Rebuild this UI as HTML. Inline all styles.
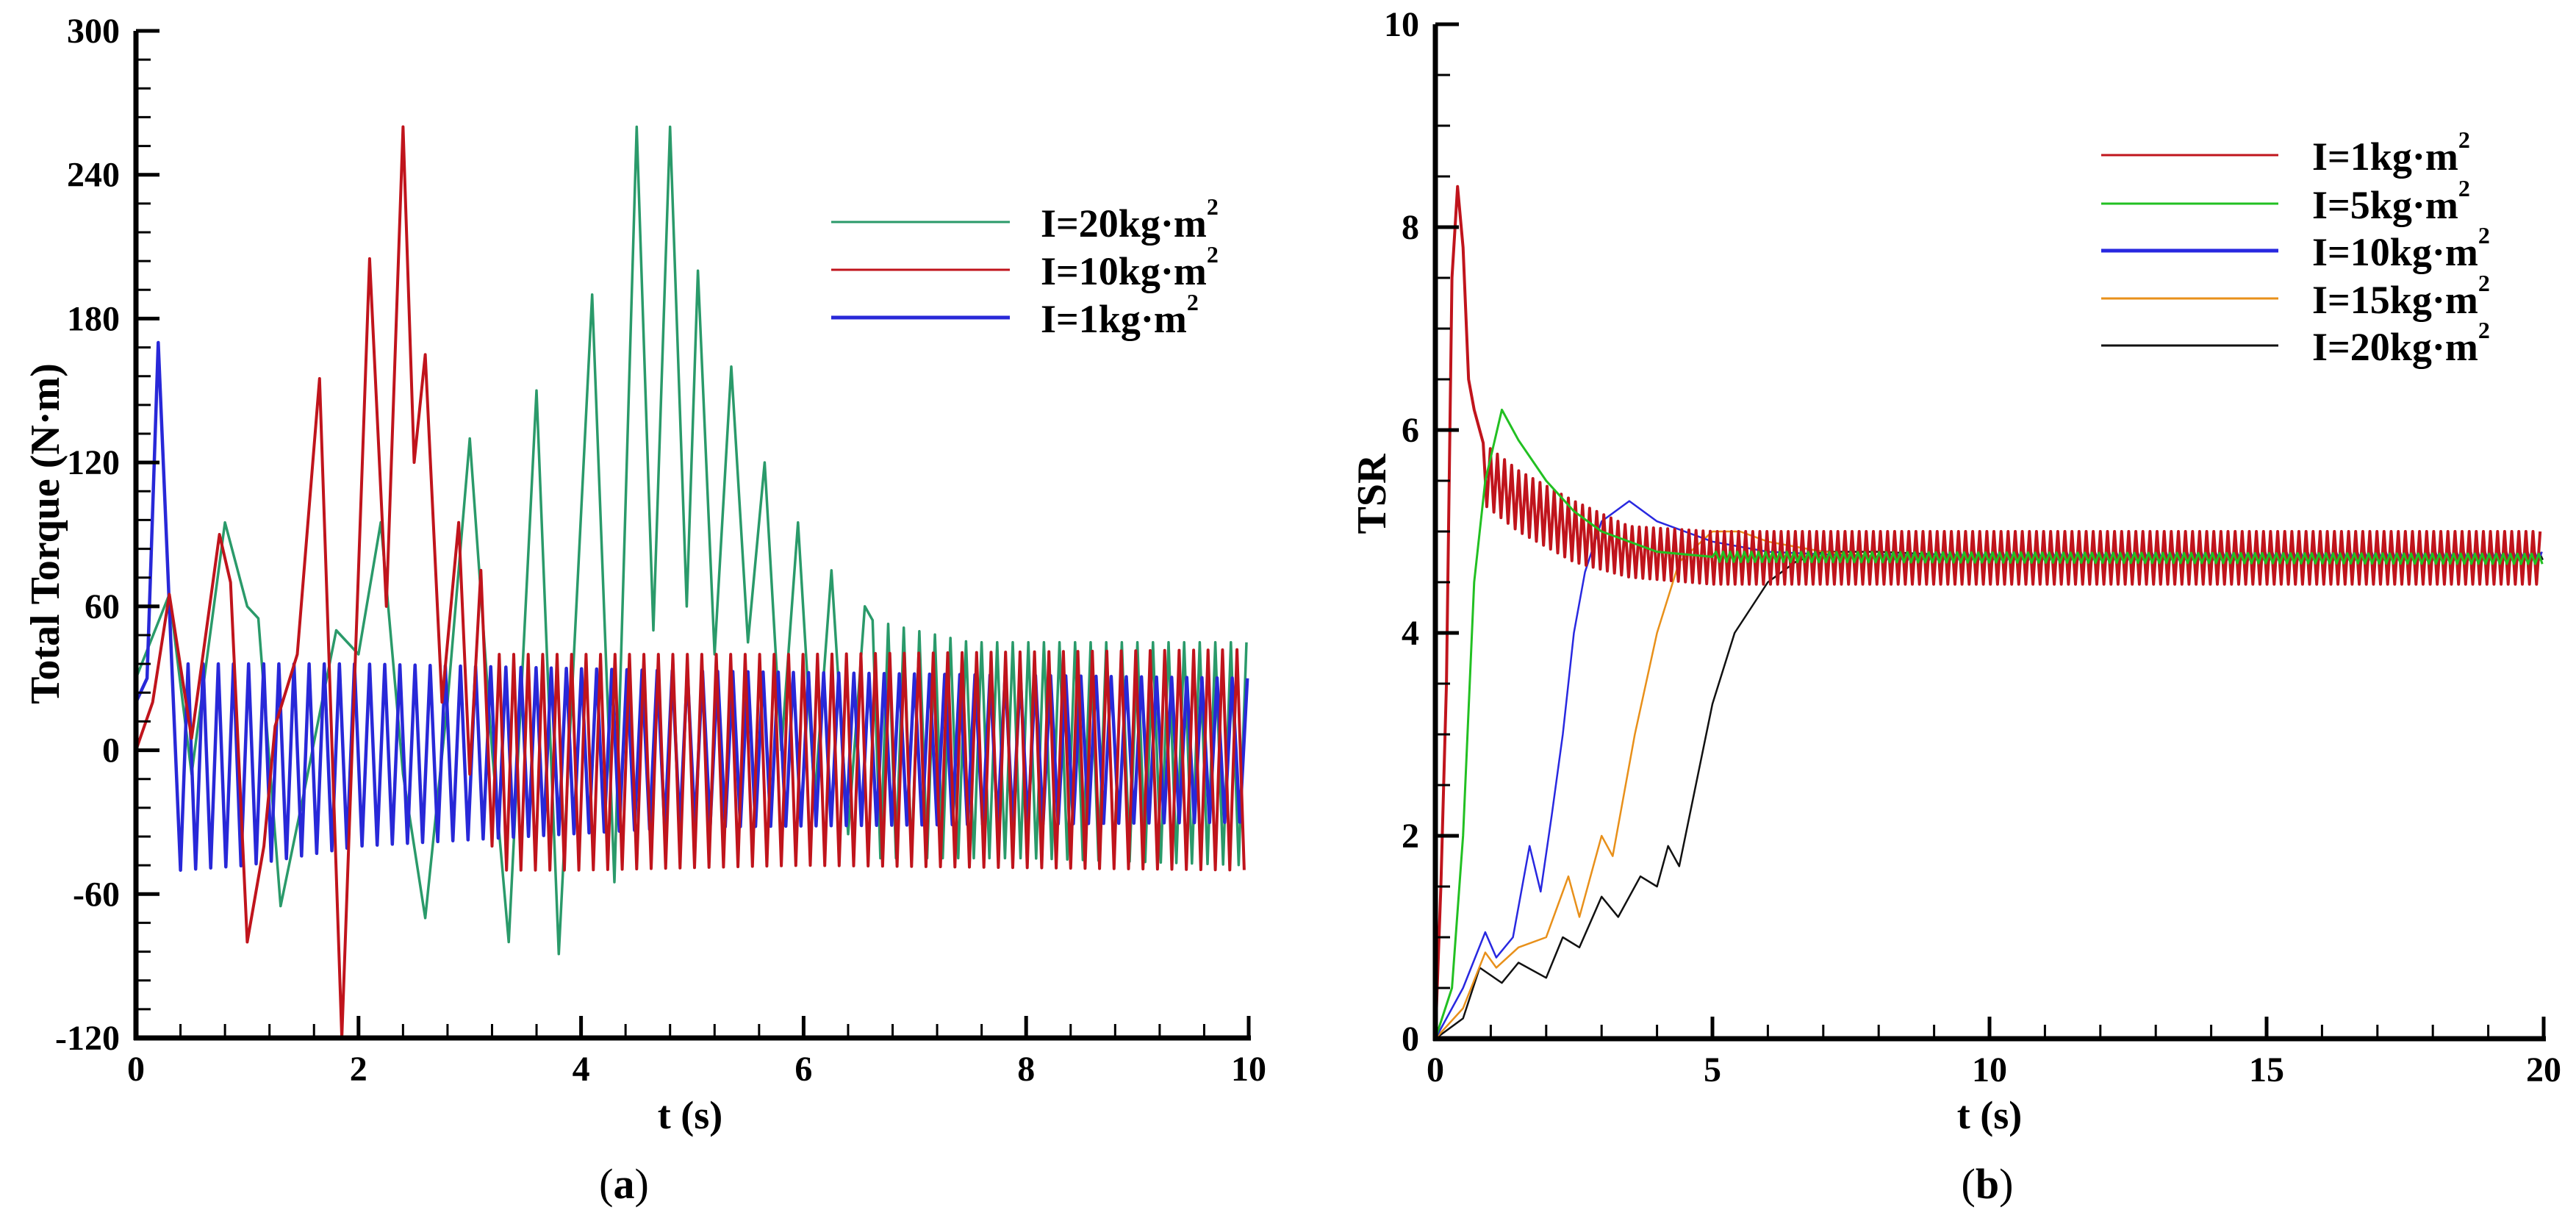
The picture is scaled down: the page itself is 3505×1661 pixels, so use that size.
<!DOCTYPE html>
<html><head><meta charset="utf-8"><style>
html,body{margin:0;padding:0;background:#fff;}
svg{display:block;}
text{font-family:"Liberation Serif",serif;fill:#000;}
</style></head><body>
<svg id="fig" width="3505" height="1661" viewBox="0 0 3505 1661" xmlns="http://www.w3.org/2000/svg">
<g id="plotA"></g>
<g id="plotB"></g>
</svg>
<script>
// ---------- Chart (a) data: transient points then oscillation envelope ----------
const aBlueTransT = [0,0.1,0.2,0.3,0.4];
const aBlueTransV = [20,30,170,60,-50];
const aBlueEnvT = [0.4,1,2,5,10];
const aBlueEnvHi = [36,36,36,33,30];
const aBlueEnvLo = [-50,-48,-40,-32,-30];
const aBluePeriod = 0.136;

const aRedTransT = [0,0.15,0.3,0.5,0.75,0.85,1.0,1.15,1.25,1.45,1.65,1.85,2.1,2.25,2.4,2.5,2.6,2.75,2.9,3.0,3.1,3.2];
const aRedTransV = [0,20,65,5,90,70,-80,-40,10,40,155,-120,205,60,260,120,165,20,95,-10,75,-40];
const aRedEnvT = [3.2,4,6,10];
const aRedEnvHi = [40,40,40,42];
const aRedEnvLo = [-50,-50,-48,-50];
const aRedPeriod = 0.13;

const aGreenTransT = [0,0.3,0.5,0.8,1.0,1.1,1.3,1.5,1.8,2.0,2.2,2.4,2.6,2.8,3.0,3.2,3.35,3.6,3.8,4.1,4.3,4.5,4.65,4.8,4.95,5.05,5.2,5.35,5.5,5.65,5.8,5.95,6.1,6.25,6.4,6.55];
const aGreenTransV = [30,65,-10,95,60,55,-65,-20,50,40,95,-10,-70,20,130,0,-80,150,-85,190,-55,260,50,260,60,200,40,160,45,120,0,95,-20,75,-35,60];
const aGreenEnvT = [6.55,7.0,7.5,8,10];
const aGreenEnvHi = [55,50,45,45,45];
const aGreenEnvLo = [-45,-45,-45,-45,-48];
const aGreenPeriod = 0.14;

const aYTicks = [-120,-60,0,60,120,180,240,300];
const aXTicks = [0,2,4,6,8,10];
const aLegend = ["I=20kg·m","I=10kg·m","I=1kg·m"];

// ---------- Chart (b) data ----------
const bRedTransT = [0,0.1,0.2,0.3,0.4,0.5,0.6,0.7,0.8];
const bRedTransV = [0,1.5,3.5,7.5,8.4,7.8,6.5,6.2,6.0];
const bRedEnvT = [0.8,1.5,2.5,3.5,5,20];
const bRedEnvHi = [5.9,5.6,5.3,5.05,5.0,5.0];
const bRedEnvLo = [5.3,5.0,4.7,4.55,4.48,4.48];
const bRedPeriod = 0.128;

const bGreenTransT = [0,0.3,0.5,0.7,0.9,1.2,1.5,2,2.5,3,4,5];
const bGreenTransV = [0,0.5,2,4.5,5.5,6.2,5.9,5.5,5.2,5.0,4.8,4.75];
const bGreenEnvT = [5,20]; const bGreenEnvHi = [4.8,4.78]; const bGreenEnvLo = [4.7,4.68];

const bBlueTransT = [0,0.5,0.9,1.1,1.4,1.7,1.9,2.1,2.3,2.5,2.7,3.0,3.5,4,5,6,8];
const bBlueTransV = [0,0.5,1.05,0.8,1.0,1.9,1.45,2.2,3.0,4.0,4.6,5.1,5.3,5.1,4.9,4.8,4.75];
const bBlueEnvT = [8,20]; const bBlueEnvHi = [4.8,4.8]; const bBlueEnvLo = [4.7,4.7];

const bOrangeTransT = [0,0.5,0.9,1.1,1.5,2.0,2.4,2.6,3.0,3.2,3.6,4.0,4.4,5,5.5,6,7,8];
const bOrangeTransV = [0,0.3,0.85,0.7,0.9,1.0,1.6,1.2,2.0,1.8,3.0,4.0,4.7,5.0,5.0,4.9,4.8,4.75];
const bOrangeEnvT = [8,20]; const bOrangeEnvHi = [4.8,4.8]; const bOrangeEnvLo = [4.7,4.7];

const bBlackTransT = [0,0.5,0.8,1.2,1.5,2.0,2.3,2.6,3.0,3.3,3.7,4.0,4.2,4.4,4.7,5.0,5.4,6,6.5,7,8,10];
const bBlackTransV = [0,0.2,0.7,0.55,0.75,0.6,1.0,0.9,1.4,1.2,1.6,1.5,1.9,1.7,2.5,3.3,4.0,4.5,4.7,4.8,4.8,4.75];
const bBlackEnvT = [10,20]; const bBlackEnvHi = [4.8,4.8]; const bBlackEnvLo = [4.72,4.72];
const bSmallPeriod = 0.128;

const bYTicks = [0,2,4,6,8,10];
const bXTicks = [0,5,10,15,20];
const bLegend = ["I=1kg·m","I=5kg·m","I=10kg·m","I=15kg·m","I=20kg·m"];

const NS = "http://www.w3.org/2000/svg";
function mk(parent, tag, attrs){ const e=document.createElementNS(NS,tag); for(const k in attrs) e.setAttribute(k,attrs[k]); parent.appendChild(e); return e; }
function interp(ts, vs, t){ if(t<=ts[0]) return vs[0]; for(let i=1;i<ts.length;i++){ if(t<=ts[i]){ const f=(t-ts[i-1])/(ts[i]-ts[i-1]); return vs[i-1]+f*(vs[i]-vs[i-1]); } } return vs[vs.length-1]; }
function seriesPts(tt,tv,et,eh,el,period,tEnd){
  const pts=[]; for(let i=0;i<tt.length;i++) pts.push([tt[i],tv[i]]);
  let t=et[0]; let k=0;
  while(t<=tEnd+1e-9){ t+=period/2; k++; if(t>tEnd) break; pts.push([t, (k%2===1)? interp(et,eh,t): interp(et,el,t)]); }
  return pts;
}

function axes(g, X, Y, x0, x1, y0, y1, xTicks, xMinor, yTicks, yMinor){
  for(let v=xTicks[0]; v<=xTicks[xTicks.length-1]+1e-9; v+=xMinor){
    const isMaj = xTicks.some(m=>Math.abs(m-v)<1e-6);
    const t=mk(g,'line',{x1:X(v),x2:X(v),y1:Y(y0),y2:Y(y0)-(isMaj?30:19),stroke:'#000','stroke-width':isMaj?5:3});
    
    
  }
  for(let v=yTicks[0]; v<=yTicks[yTicks.length-1]+1e-9; v+=yMinor){
    const isMaj = yTicks.some(m=>Math.abs(m-v)<1e-6);
    const t=mk(g,'line',{x1:X(x0),x2:X(x0)+(isMaj?32:20),y1:Y(v),y2:Y(v),stroke:'#000','stroke-width':isMaj?5:3});
    
    
  }
  xTicks.forEach(v=>{ const t=mk(g,'text',{x:X(v),y:Y(y0)+58,'text-anchor':'middle','font-size':48,'font-weight':'bold'}); t.textContent=v;
      });
  yTicks.forEach(v=>{ const t=mk(g,'text',{x:X(x0)-22,y:Y(v)+16,'text-anchor':'end','font-size':48,'font-weight':'bold'}); t.textContent=v;
      });
}
function axisLines(g,X,Y,x0,x1,y0,y1){
  const a=mk(g,'line',{x1:X(x0),x2:X(x0),y1:Y(y0)+3,y2:Y(y1),stroke:'#000','stroke-width':7});
   
  const b=mk(g,'line',{x1:X(x0)-3,x2:X(x1)+3,y1:Y(y0),y2:Y(y0),stroke:'#000','stroke-width':7});
   
}
function drawLine(g, pts, X, Y, color, w, name){
  const d=pts.map((p,i)=>(i?'L':'M')+X(p[0]).toFixed(1)+' '+Y(p[1]).toFixed(1)).join('');
  const p=mk(g,'path',{d:d,fill:'none',stroke:color,'stroke-width':w,'stroke-linejoin':'round'});
  
  
}
function legend(g, items, colors, widths, lx0, lx1, tx, ys, prefix){
  items.forEach((s,i)=>{
    const l=mk(g,'line',{x1:lx0,x2:lx1,y1:ys[i],y2:ys[i],stroke:colors[i],'stroke-width':widths[i]});
    
    
    const t=mk(g,'text',{x:tx,y:ys[i]+20,'font-size':54,'font-weight':'bold'});
    t.textContent=s;
    const sup=mk(t,'tspan',{dy:-30,'font-size':32}); sup.textContent='2';
    
    
  });
}
function label(g,x,y,txt,size,name,rot,weight){
  const t=mk(g,'text',{x:x,y:y,'text-anchor':'middle','font-size':size,'font-weight':weight||'bold'});
  if(rot) t.setAttribute('transform','rotate(-90 '+x+' '+y+')');
  t.textContent=txt;
   
  return t;
}

// ---------- draw (a) ----------
(function(){
  const g=document.getElementById('plotA');
  const px0=185, px1=1699, py0=1412, py1=42;
  const X=v=>px0+(v-0)/(10-0)*(px1-px0);
  const Y=v=>py0-(v-(-120))/(300-(-120))*(py0-py1);
  const grn='#2a9a6a', red='#c0141c', blu='#2828d8';
  drawLine(g, seriesPts(aGreenTransT,aGreenTransV,aGreenEnvT,aGreenEnvHi,aGreenEnvLo,aGreenPeriod,10), X,Y, grn, 3.5, 'series-i20');
  drawLine(g, seriesPts(aBlueTransT,aBlueTransV,aBlueEnvT,aBlueEnvHi,aBlueEnvLo,aBluePeriod,10), X,Y, blu, 4.5, 'series-i1');
  drawLine(g, seriesPts(aRedTransT,aRedTransV,aRedEnvT,aRedEnvHi,aRedEnvLo,aRedPeriod,10), X,Y, red, 4, 'series-i10');
  axes(g,X,Y,0,10,-120,300,aXTicks,0.4,aYTicks,12);
  axisLines(g,X,Y,0,10,-120,300);
  legend(g,aLegend,[grn,red,blu],[3,3,5],1131,1374,1416,[302,367,432],'torque');
  label(g,939,1535,'t (s)',54,'x-axis-title');
  label(g,80,726,'Total Torque (N·m)',56,'y-axis-title',true);
  const c=label(g,849,1630,'(',58,'panel-label-a','', 'normal'); const b=mk(c,'tspan',{'font-weight':'bold'}); b.textContent='a'; const e=mk(c,'tspan',{}); e.textContent=')';
})();

// ---------- draw (b) ----------
(function(){
  const g=document.getElementById('plotB');
  const px0=1953, px1=3461, py0=1413, py1=33;
  const X=v=>px0+(v-0)/(20-0)*(px1-px0);
  const Y=v=>py0-(v-0)/(10-0)*(py0-py1);
  const red='#c0141c', grn='#22c022', blu='#2828e0', org='#e8901a', blk='#111';
  drawLine(g, seriesPts(bBlackTransT,bBlackTransV,bBlackEnvT,bBlackEnvHi,bBlackEnvLo,bSmallPeriod,20), X,Y, blk, 2.5, 'series-i20');
  drawLine(g, seriesPts(bOrangeTransT,bOrangeTransV,bOrangeEnvT,bOrangeEnvHi,bOrangeEnvLo,bSmallPeriod,20), X,Y, org, 2.5, 'series-i15');
  drawLine(g, seriesPts(bBlueTransT,bBlueTransV,bBlueEnvT,bBlueEnvHi,bBlueEnvLo,bSmallPeriod,20), X,Y, blu, 2.5, 'series-i10');
  drawLine(g, seriesPts(bRedTransT,bRedTransV,bRedEnvT,bRedEnvHi,bRedEnvLo,bRedPeriod,20), X,Y, red, 4, 'series-i1');
  drawLine(g, seriesPts(bGreenTransT,bGreenTransV,bGreenEnvT,bGreenEnvHi,bGreenEnvLo,bSmallPeriod,20), X,Y, grn, 3, 'series-i5');
  axes(g,X,Y,0,20,0,10,bXTicks,1,bYTicks,0.5);
  axisLines(g,X,Y,0,20,0,10);
  legend(g,bLegend,[red,grn,blu,org,blk],[3,3,5,3,3],2859,3100,3146,[211,277,341,406,470],'tsr');
  label(g,2707,1535,'t (s)',54,'x-axis-title');
  label(g,1885,672,'TSR',56,'y-axis-title',true);
  const c=label(g,2704,1630,'(',58,'panel-label-b','', 'normal'); const b=mk(c,'tspan',{'font-weight':'bold'}); b.textContent='b'; const e=mk(c,'tspan',{}); e.textContent=')';
})();
</script>
</body></html>
